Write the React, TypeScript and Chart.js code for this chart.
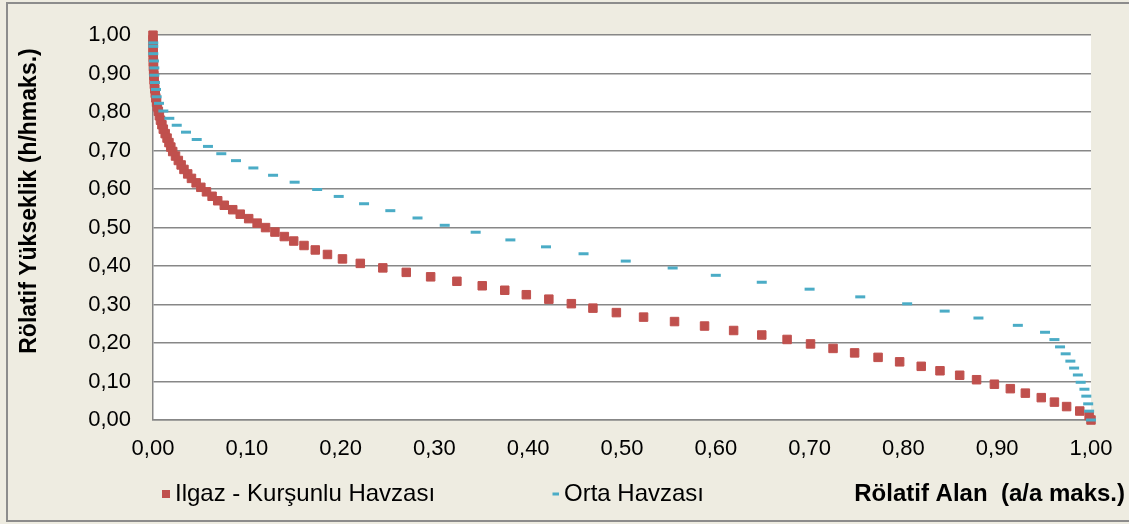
import React, { useEffect, useRef } from "react";
import { Chart, registerables } from "chart.js";

Chart.register(...registerables);

// Ilgaz - Kurşunlu Havzası (relative area x, relative height y)
const ilgazX = [
  1.0, 0.998, 0.988, 0.974, 0.961, 0.947, 0.93, 0.914, 0.897, 0.878,
  0.86, 0.839, 0.819, 0.796, 0.773, 0.748, 0.725, 0.701, 0.676, 0.649,
  0.619, 0.588, 0.556, 0.523, 0.494, 0.469, 0.446, 0.422, 0.398, 0.375,
  0.351, 0.324, 0.296, 0.27, 0.245, 0.221, 0.202, 0.186, 0.173, 0.161,
  0.15, 0.14, 0.13, 0.12, 0.111, 0.102, 0.093, 0.085, 0.076, 0.069,
  0.063, 0.057, 0.051, 0.046, 0.041, 0.037, 0.033, 0.03, 0.027, 0.024,
  0.021, 0.019, 0.017, 0.015, 0.013, 0.011, 0.0095, 0.008, 0.0068, 0.0057,
  0.0047, 0.0038, 0.003, 0.0024, 0.0019, 0.0015, 0.0012, 0.0009, 0.0007, 0.0005,
  0.0004, 0.0003, 0.0002, 0.0001, 0.0001, 0.0, 0.0,
];
const ilgazY = [
  0.0, 0.0116, 0.0233, 0.0349, 0.0465, 0.0581, 0.0698, 0.0814, 0.093, 0.1047,
  0.1163, 0.1279, 0.1395, 0.1512, 0.1628, 0.1744, 0.186, 0.1977, 0.2093, 0.2209,
  0.2326, 0.2442, 0.2558, 0.2674, 0.2791, 0.2907, 0.3023, 0.314, 0.3256, 0.3372,
  0.3488, 0.3605, 0.3721, 0.3837, 0.3953, 0.407, 0.4186, 0.4302, 0.4419, 0.4535,
  0.4651, 0.4767, 0.4884, 0.5, 0.5116, 0.5233, 0.5349, 0.5465, 0.5581, 0.5698,
  0.5814, 0.593, 0.6047, 0.6163, 0.6279, 0.6395, 0.6512, 0.6628, 0.6744, 0.686,
  0.6977, 0.7093, 0.7209, 0.7326, 0.7442, 0.7558, 0.7674, 0.7791, 0.7907, 0.8023,
  0.814, 0.8256, 0.8372, 0.8488, 0.8605, 0.8721, 0.8837, 0.8953, 0.907, 0.9186,
  0.9302, 0.9419, 0.9535, 0.9651, 0.9767, 0.9884, 1.0,
];

// Orta Havzası
const ortaX = [
  1.0, 0.998, 0.997, 0.995, 0.993, 0.989, 0.986, 0.982, 0.978, 0.973,
  0.967, 0.961, 0.951, 0.922, 0.88, 0.844, 0.804, 0.754, 0.7, 0.649,
  0.6, 0.554, 0.504, 0.459, 0.419, 0.381, 0.344, 0.311, 0.282, 0.253,
  0.225, 0.198, 0.175, 0.151, 0.128, 0.107, 0.0885, 0.0728, 0.0586, 0.0466,
  0.0352, 0.0253, 0.0174, 0.011, 0.0064, 0.0039, 0.0032, 0.0021, 0.0014, 0.0014,
  0.001, 0.0003, 0.0003, 0.0003,
];
const ortaY = [
  0.0, 0.023, 0.042, 0.062, 0.08, 0.098, 0.117, 0.135, 0.153, 0.172,
  0.19, 0.209, 0.228, 0.246, 0.265, 0.283, 0.302, 0.32, 0.34, 0.358,
  0.376, 0.395, 0.413, 0.432, 0.45, 0.468, 0.488, 0.506, 0.525, 0.544,
  0.562, 0.581, 0.599, 0.618, 0.636, 0.655, 0.674, 0.692, 0.711, 0.729,
  0.748, 0.766, 0.784, 0.803, 0.823, 0.84, 0.859, 0.877, 0.896, 0.915,
  0.933, 0.952, 0.971, 0.98,
];

const seriesNames = ["Ilgaz - Kurşunlu Havzası", "Orta Havzası"];
const xTitle = "Rölatif Alan  (a/a maks.)";
const yTitle = "Rölatif Yükseklik (h/hmaks.)";

const RED = "#C0504D";
const BLUE = "#4BACC6";
const GRID = "#878787";
const BG = "#EEECE1";
const FONT = "'Liberation Sans', Arial, sans-serif";

const fmt = (v: number) => (Math.round(v * 100) / 100).toFixed(2).replace(".", ",");

const decorPlugin = {
  id: "decor",
  beforeDraw(chart: any) {
    const { ctx, chartArea, width, height } = chart;
    ctx.save();
    ctx.fillStyle = BG;
    ctx.fillRect(0, 0, width, height);
    ctx.strokeStyle = "#8c8c8c";
    ctx.lineWidth = 2;
    ctx.strokeRect(7, 3, width + 20, height - 6);
    ctx.fillStyle = "#FFFFFF";
    ctx.fillRect(chartArea.left, chartArea.top, chartArea.right - chartArea.left, chartArea.bottom - chartArea.top);
    ctx.restore();
  },
  afterDraw(chart: any) {
    const { ctx } = chart;
    ctx.save();
    ctx.fillStyle = "#000";
    // y title
    ctx.font = `bold 23px ${FONT}`;
    ctx.textAlign = "center";
    ctx.textBaseline = "middle";
    ctx.translate(30, 201);
    ctx.rotate(-Math.PI / 2);
    ctx.fillText(yTitle, 0, 0);
    ctx.restore();

    ctx.save();
    ctx.fillStyle = "#000";
    ctx.font = `bold 24px ${FONT}`;
    ctx.textAlign = "right";
    ctx.textBaseline = "middle";
    ctx.fillText(xTitle, 1125, 494);

    // legend
    ctx.font = `24px ${FONT}`;
    ctx.textAlign = "left";
    ctx.fillStyle = RED;
    ctx.fillRect(162, 490, 8, 8);
    ctx.fillStyle = "#000";
    ctx.fillText(seriesNames[0], 175, 494);
    ctx.fillStyle = BLUE;
    ctx.fillRect(552.5, 492.5, 6.5, 3);
    ctx.fillStyle = "#000";
    ctx.fillText(seriesNames[1], 564, 494);
    ctx.restore();
  },
};

export default function App() {
  const ref = useRef<HTMLCanvasElement | null>(null);
  useEffect(() => {
    if (!ref.current) return;
    const chart = new Chart(ref.current, {
      type: "scatter",
      data: {
        datasets: [
          {
            label: seriesNames[0],
            data: ilgazX.map((x, i) => ({ x, y: ilgazY[i] })),
            pointStyle: "rect",
            pointRadius: 6,
            pointBackgroundColor: RED,
            pointBorderColor: RED,
            pointBorderWidth: 1,
            order: 2,
            clip: false,
          },
          {
            label: seriesNames[1],
            data: ortaX.map((x, i) => ({ x, y: ortaY[i] })),
            pointStyle: "line",
            pointRadius: 5,
            pointBackgroundColor: BLUE,
            pointBorderColor: BLUE,
            pointBorderWidth: 3,
            order: 1,
            clip: false,
          },
        ],
      },
      plugins: [decorPlugin],
      options: {
        animation: false,
        responsive: false,
        devicePixelRatio: 1,
        layout: { padding: { top: 35, right: 38, left: 0, bottom: 0 } },
        plugins: { legend: { display: false }, tooltip: { enabled: false }, title: { display: false } },
        scales: {
          x: {
            type: "linear",
            position: "bottom",
            min: 0,
            max: 1,
            afterFit: (s: any) => { s.height = 104; },
            grid: { display: false, drawTicks: false },
            border: { display: true, color: GRID, width: 1.5 },
            ticks: {
              stepSize: 0.1,
              padding: 16,
              color: "#000",
              font: { family: FONT, size: 22 },
              maxRotation: 0,
              autoSkip: false,
              callback: (v: any) => fmt(Number(v)),
            },
          },
          y: {
            type: "linear",
            min: 0,
            max: 1,
            afterFit: (s: any) => { s.width = 153; },
            grid: { color: GRID, lineWidth: 1.5, drawTicks: false },
            border: { display: true, color: GRID, width: 1.5 },
            ticks: {
              stepSize: 0.1,
              padding: 22,
              color: "#000",
              font: { family: FONT, size: 22 },
              autoSkip: false,
              callback: (v: any) => fmt(Number(v)),
            },
          },
        },
      },
    });
    return () => chart.destroy();
  }, []);
  return (
    <div style={{ position: "absolute", left: 0, top: 0, width: 1129, height: 524 }}>
      <canvas ref={ref} width={1129} height={524} style={{ display: "block", width: 1129, height: 524 }} />
    </div>
  );
}
